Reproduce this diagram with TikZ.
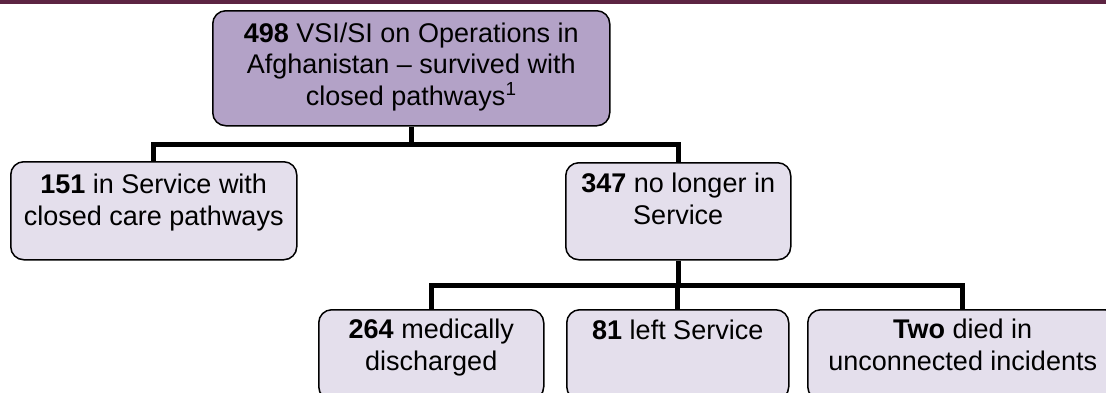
\documentclass[tikz,border=0pt]{standalone}
\usepackage{fontspec}
\setmainfont{Liberation Sans}
\definecolor{topfill}{HTML}{B3A2C7}
\definecolor{boxfill}{HTML}{E4DFEC}
\definecolor{barcol}{HTML}{5C2442}
\tikzset{
  box/.style={draw=black, line width=1.5pt, rounded corners=13pt, anchor=north west, inner sep=0pt, fill=boxfill},
  txt/.style={anchor=base, inner sep=0pt, align=center, font=\fontsize{27}{31.5}\selectfont},
  conn/.style={line width=5pt, draw=black, line join=miter},
}
\begin{document}
\begin{tikzpicture}[x=1pt,y=-1pt]
\useasboundingbox (0,0) rectangle (1106,392);
\clip (0,0) rectangle (1106,392);
\fill[barcol] (0,0) rectangle (1106,3.5);
% boxes
\node[box, fill=topfill, minimum width=397pt, minimum height=115pt] (top) at (212,10) {};
\node[box, minimum width=286pt, minimum height=98pt] (left) at (10,161) {};
\node[box, minimum width=225pt, minimum height=97pt] (mid) at (565,162) {};
\node[box, minimum width=225pt, minimum height=90pt] (med) at (318,309) {};
\node[box, minimum width=222pt, minimum height=90pt] (lft) at (566,309) {};
\node[box, minimum width=310pt, minimum height=90pt] (two) at (807,309) {};
% connectors
\coordinate (j1) at ([yshift=-18pt]top.south);
\coordinate (j2) at ([yshift=-25pt]mid.south);
\draw[conn] (top.south) -- (top.south |- j1);
\draw[conn] (left.north) -- (left.north |- j1) -- (mid.north |- j1) -- (mid.north);
\draw[conn] (mid.south) -- (mid.south |- j2);
\draw[conn] (med.north) -- (med.north |- j2) -- (two.north |- j2) -- (two.north);
\draw[conn] (lft.north |- j2) -- (lft.north);
% texts (base = baseline of the last line)
\node[txt] (toptxt) at ([yshift=-95pt]top.north) {\textbf{498} VSI/SI on Operations in\\Afghanistan – survived with\\closed pathways\textsuperscript{1}};
\node[txt] (lefttxt) at ([yshift=-64pt]left.north) {\textbf{151} in Service with\\closed care pathways};
\node[txt] (midtxt) at ([yshift=-62pt]mid.north) {\textbf{347} no longer in\\Service};
\node[txt] (medtxt) at ([yshift=-61pt]med.north) {\textbf{264} medically\\discharged};
\node[txt] (lfttxt) at ([yshift=-30pt]lft.north) {\textbf{81} left Service};
\node[txt] (twotxt) at ([yshift=-61pt]two.north) {\textbf{Two} died in\\unconnected incidents};
\end{tikzpicture}
\end{document}
